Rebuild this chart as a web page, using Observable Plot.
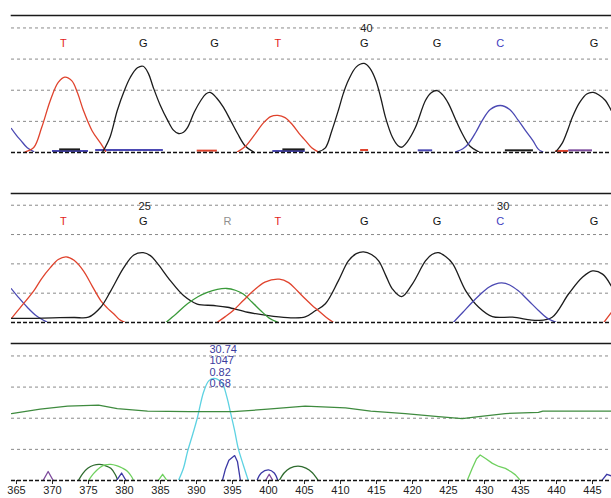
<!DOCTYPE html>
<html><head><meta charset="utf-8">
<script src="https://cdn.jsdelivr.net/npm/d3@7"></script>
<script src="https://cdn.jsdelivr.net/npm/@observablehq/plot@0.6"></script>
<style>
body{margin:0;background:#fff;width:611px;height:498px;overflow:hidden;font-family:"Liberation Sans",Arial,sans-serif}
#chart svg{display:block}
</style></head><body><div id="chart"></div>
<script>
// ---- scan-position axis ----
const xTicks = [365,370,375,380,385,390,395,400,405,410,415,420,425,430,435,440,445];
const gridLevels = [1,2,3,4];

// ---- base calls ----
const bases1 = ["T","G","G","T","G","G","C","G"];
const basePos1 = [371.5,382.6,392.5,401.3,413.3,423.4,432.2,445.2];
const bases2 = ["T","G","R","T","G","G","C","G"];
const basePos2 = [371.5,382.6,394.3,401.3,413.3,423.4,432.2,445.2];
const numbers1 = ["40"];
const numberPos1 = [413.6];
const numbers2 = ["25","30"];
const numberPos2 = [382.8,432.6];

// ---- panel 1 traces [position, signal] ----
const p1_C0 = [[364.3,0.77],[365.0,0.55],[365.6,0.39],[366.5,0.15],[367.4,0.03]];
const p1_T1 = [[366.2,0.02],[367.4,0.16],[368.5,0.8],[369.7,1.67],[370.8,2.25],[371.7,2.42],[372.7,2.3],[373.5,1.9],[374.3,1.35],[375.5,0.7],[376.7,0.29],[377.4,0.03]];
const p1_G1 = [[377.0,0.03],[378.0,0.5],[379.0,1.35],[380.0,2.0],[380.8,2.41],[381.8,2.72],[382.6,2.77],[383.3,2.55],[384.0,2.09],[385.0,1.5],[386.0,1.03],[386.8,0.72],[387.5,0.61],[388.2,0.65],[388.75,0.8],[389.7,1.3],[390.6,1.67],[391.3,1.88],[391.9,1.93],[392.8,1.75],[393.75,1.45],[394.8,1.0],[395.7,0.61],[396.8,0.2],[397.9,0.02]];
const p1_T2 = [[395.7,0.02],[396.8,0.2],[398.0,0.55],[399.3,0.95],[400.3,1.15],[401.3,1.19],[402.3,1.12],[403.3,0.9],[404.3,0.6],[405.1,0.39],[406.0,0.15],[406.9,0.02]];
const p1_G2 = [[406.9,0.02],[407.9,0.15],[408.8,0.7],[409.7,1.35],[410.4,1.9],[411.1,2.32],[412.2,2.75],[413.3,2.86],[414.1,2.7],[414.9,2.32],[415.6,1.75],[416.25,1.13],[417.2,0.5],[418.0,0.22],[418.5,0.17],[419.3,0.35],[420.4,0.8],[421.8,1.67],[422.6,1.92],[423.4,1.99],[424.2,1.85],[425.0,1.57],[426.0,1.05],[426.9,0.61],[428.0,0.2],[429.2,0.02]];
const p1_C1 = [[426.0,0.02],[427.0,0.12],[427.8,0.29],[428.8,0.65],[429.7,1.03],[430.8,1.38],[432.2,1.51],[433.5,1.38],[434.7,1.03],[435.7,0.7],[436.7,0.39],[437.5,0.1],[438.1,0.02]];
const p1_G3 = [[439.9,0.02],[440.8,0.3],[441.6,0.75],[442.2,1.13],[443.2,1.6],[444.2,1.88],[445.1,1.93],[446.0,1.83],[446.8,1.67],[447.6,1.35]];
// small baseline residues [start, end, signal, channel]
const p1_blips = [[370.0,375.0,0.05,"C"],[371.0,373.9,0.1,"G"],[376.0,385.4,0.08,"C"],[390.1,392.9,0.06,"T"],[400.6,405.1,0.05,"C"],[402.0,405.1,0.1,"G"],[412.8,413.9,0.08,"T"],[420.8,422.8,0.07,"C"],[432.9,436.8,0.07,"G"],[439.9,441.7,0.05,"T"],[441.7,445.0,0.07,"P"]];

// ---- panel 2 traces ----
const p2_C0 = [[364.3,1.15],[365.3,0.85],[366.5,0.52],[367.8,0.22],[369.2,0.02]];
const p2_T1 = [[364.3,0.14],[365.5,0.5],[367.4,1.08],[368.5,1.5],[369.7,1.87],[370.8,2.15],[371.9,2.24],[373.0,2.12],[374.3,1.76],[375.5,1.25],[376.7,0.75],[377.6,0.5],[378.5,0.3],[379.3,0.1],[380.0,0.01]];
const p2_G = [[364.3,0.14],[367,0.14],[370,0.16],[373,0.17],[375.0,0.18],[376.7,0.52],[378.1,1.08],[379.9,1.87],[381.3,2.3],[382.6,2.38],[383.6,2.28],[384.5,2.04],[386.4,1.42],[388.2,0.92],[390.1,0.63],[392.4,0.58],[394.3,0.52],[397.1,0.35],[400.7,0.21],[403.1,0.16],[405.1,0.19],[406.5,0.4],[407.9,0.64],[409.7,1.42],[411.1,2.1],[412.2,2.35],[413.2,2.41],[414.3,2.32],[415.3,2.1],[416.3,1.6],[417.2,1.15],[418.5,0.88],[420.0,1.32],[421.8,2.1],[422.7,2.32],[423.6,2.38],[424.6,2.25],[425.6,2.0],[427.4,1.08],[429.2,0.52],[431.1,0.2],[433.9,0.18],[437.5,0.07],[439.4,0.18],[441.7,0.98],[443.6,1.54],[445.0,1.76],[446.4,1.65],[447.6,1.25]];
const p2_A = [[385.8,0.01],[387.2,0.3],[388.75,0.64],[390.2,0.88],[391.5,1.03],[392.9,1.13],[394.2,1.16],[395.4,1.1],[396.5,0.97],[397.7,0.7],[398.9,0.41],[400.1,0.15],[401.25,0.01]];
const p2_T2 = [[392.9,0.01],[394.0,0.2],[395.1,0.41],[396.5,0.75],[397.9,1.08],[399.5,1.38],[401.5,1.48],[402.8,1.36],[404.0,1.08],[405.1,0.81],[406.0,0.6],[406.9,0.41],[408.0,0.18],[409.0,0.01]];
const p2_C1 = [[425.7,0.01],[427.0,0.35],[428.3,0.69],[429.5,0.98],[430.6,1.2],[431.5,1.31],[432.4,1.35],[433.5,1.28],[434.7,1.08],[436.1,0.75],[437.5,0.41],[438.7,0.15],[439.9,0.01]];
const p2_T3 = [[446.6,0.01],[447.6,0.34]];

// ---- panel 3 traces ----
const p3_flat = [[364.3,2.15],[368.3,2.29],[372.1,2.39],[376.4,2.42],[379.0,2.31],[383.2,2.23],[389,2.21],[395.1,2.21],[399.9,2.29],[405.1,2.39],[410.7,2.33],[414.2,2.23],[419.0,2.15],[423.6,2.05],[426.9,1.99],[429.2,2.05],[432.9,2.15],[437.5,2.19],[438.1,2.23],[447.6,2.23]];
const p3_cyan = [[387.5,0],[388.2,0.4],[388.75,0.92],[389.5,1.5],[390.1,1.99],[391.0,2.85],[391.7,3.2],[392.4,3.28],[393.0,3.24],[393.6,3.12],[394.2,2.7],[394.7,2.21],[395.3,1.6],[395.8,1.03],[396.5,0.5],[397.2,0]];
const p3_navyTri = [[393.6,0],[394.0,0.35],[394.5,0.65],[395.3,0.8],[395.7,0.6],[396.1,0]];
const p3_purple1 = [[368.7,0],[369.4,0.29],[370.1,0]];
const p3_dkgreen1 = [[373.6,0],[374.2,0.22],[374.9,0.39],[375.7,0.49],[376.5,0.52],[377.3,0.48],[378.1,0.39],[378.7,0.2],[379.0,0.05]];
const p3_ltgreen1 = [[375.0,0],[375.7,0.22],[376.6,0.42],[377.3,0.5],[378.1,0.52],[378.9,0.48],[379.7,0.4],[380.4,0.3],[381.0,0.12],[381.25,0]];
const p3_navy1 = [[378.9,0],[379.6,0.24],[380.2,0]];
const p3_ltgreen2 = [[384.7,0],[385.3,0.2],[385.9,0]];
const p3_navy2 = [[398.4,0],[399.0,0.24],[400.0,0.34],[400.8,0.24],[401.3,0]];
const p3_purple2 = [[399.6,0],[400.1,0.2],[400.6,0]];
const p3_dkgreen2 = [[401.5,0],[402.2,0.25],[403.0,0.4],[404.1,0.46],[405.2,0.4],[406.1,0.25],[406.9,0]];
const p3_ltgreen3 = [[427.6,0],[428.3,0.39],[428.9,0.7],[429.4,0.82],[430.2,0.7],[431.1,0.55],[432.0,0.45],[432.9,0.39],[433.7,0.28],[434.3,0.18],[435.0,0]];
const p3_navy3 = [[446.3,0],[447.0,0.2],[447.6,0.15]];
const annotLines = ["30.74","1047","0.82","0.68"];
const annotPos = [391.8];

// ---- styling ----
const channelColor = {T:"#e0432d",G:"#1c1c1c",C:"#4b49b3",A:"#3a9a3a",R:"#9b9b9b",
  Q:"#3f8b3f",S:"#5dd2e2",N:"#3b38a5",P:"#7d4b9c",D:"#2e6b2e",L:"#6fd05f"};
const labelColor = {T:"#e3231a",G:"#111111",C:"#3f3dc0",R:"#8f8f8f"};
const xDomain = [364.31, 447.64];
const FONT = "'Liberation Sans', Arial, sans-serif";

function rows(list){
  return list.flatMap((t,i)=>t[1].map(([x,y])=>({x,y,id:i,ch:t[0]})));
}
function labelRows(letters, pos){ return letters.map((b,i)=>({b,x:pos[i]})); }

function panel(o){
  const marks = [
    Plot.ruleY(gridLevels,{stroke:"#8a8a8a",strokeWidth:1,strokeDasharray:"3,3"}),
    Plot.frame({anchor:"top",stroke:"#1a1a1a",strokeWidth:1.6}),
  ];
  if (o.blips) marks.push(Plot.ruleY(o.blips.map(([a,b,v,c])=>({a,b,v,c})),{y:"v",x1:"a",x2:"b",stroke:d=>channelColor[d.c],strokeWidth:2,clip:true}));
  if (o.smooth) marks.push(Plot.line(rows(o.smooth),{x:"x",y:"y",z:"id",stroke:d=>channelColor[d.ch],strokeWidth:1.3,curve:"catmull-rom",clip:true}));
  if (o.straight) marks.push(Plot.line(rows(o.straight),{x:"x",y:"y",z:"id",stroke:d=>channelColor[d.ch],strokeWidth:1.3,curve:"linear",clip:true}));
  marks.push(Plot.ruleY([0],{stroke:"#111",strokeWidth:1.6,strokeDasharray:"4,2"}));
  if (o.labels) for (const k of Object.keys(labelColor)) {
    const sub = o.labels.filter(d=>d.b===k);
    if (sub.length) marks.push(Plot.text(sub,{x:"x",text:"b",frameAnchor:"top",dy:o.labelDy,fontSize:11,fill:labelColor[k]}));
  }
  if (o.numbers) marks.push(Plot.text(o.numbers,{x:"x",text:"b",frameAnchor:"top",dy:o.numberDy,fontSize:11,fill:"#222"}));
  if (o.annot) marks.push(Plot.text(annotPos,{x:d=>d,text:()=>annotLines.join("\n"),frameAnchor:"top",lineAnchor:"top",textAnchor:"start",dy:1,lineHeight:1.05,fontSize:11,fill:"#3b3b9e"}));
  if (o.axis) {
    marks.push(Plot.ruleX(xTicks,{x:d=>d,y1:0,y2:-0.13,stroke:"#222",strokeWidth:1}));
    marks.push(Plot.text(xTicks,{x:d=>d,text:d=>String(d),frameAnchor:"bottom",lineAnchor:"top",dy:6,fontSize:11,fill:"#222"}));
  }
  return Plot.plot({
    width:611, height:o.height, marginLeft:11, marginRight:0,
    marginTop:o.marginTop, marginBottom:o.marginBottom,
    style:{background:"#fff",fontFamily:FONT,overflow:"visible"},
    x:{domain:xDomain, axis:null},
    y:{domain:[0,4.4], axis:null},
    color:{type:"identity"},
    marks
  });
}

const chart = document.getElementById("chart");
chart.appendChild(panel({
  height:170, marginTop:15, marginBottom:18,
  smooth:[["C",p1_C0],["T",p1_T1],["G",p1_G1],["T",p1_T2],["G",p1_G2],["C",p1_C1],["G",p1_G3]],
  blips:p1_blips,
  labels:labelRows(bases1,basePos1), labelDy:24,
  numbers:labelRows(numbers1,numberPos1), numberDy:8.5
}));
chart.appendChild(panel({
  height:165, marginTop:23, marginBottom:13,
  smooth:[["C",p2_C0],["T",p2_T1],["G",p2_G],["A",p2_A],["T",p2_T2],["C",p2_C1],["T",p2_T3]],
  labels:labelRows(bases2,basePos2), labelDy:23.7,
  numbers:labelRows(numbers2,numberPos2), numberDy:8.7
}));
chart.appendChild(panel({
  height:163, marginTop:8, marginBottom:18,
  smooth:[["S",p3_cyan],["D",p3_dkgreen1],["L",p3_ltgreen1],["N",p3_navy2],["D",p3_dkgreen2]],
  straight:[["Q",p3_flat],["N",p3_navyTri],["P",p3_purple1],["N",p3_navy1],["L",p3_ltgreen2],["P",p3_purple2],["L",p3_ltgreen3],["N",p3_navy3]],
  annot:true, axis:true
}));
</script></body></html>
